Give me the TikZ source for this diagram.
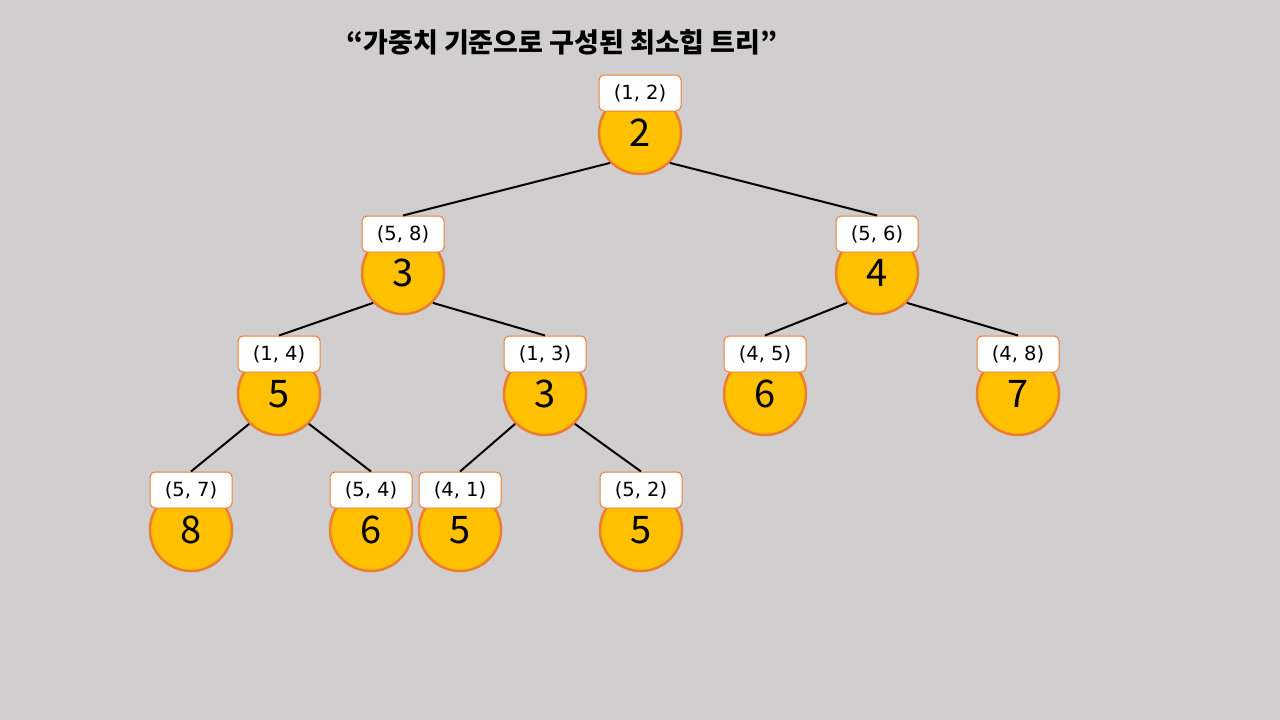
\documentclass[tikz,border=0pt]{standalone}
\usepackage{fontspec}
\setmainfont{Noto Sans CJK KR}
\newfontfamily\pairfont{DejaVu Sans}
\usepackage{tikz}
\definecolor{bggray}{HTML}{D0CECE}
\definecolor{heapfill}{HTML}{FFC000}
\definecolor{heapline}{HTML}{ED7D31}
\begin{document}
\begin{tikzpicture}[x=1pt,y=-1pt,
  key/.style={circle, draw=heapline, line width=2.5pt, fill=heapfill, minimum size=82pt, inner sep=0pt, font=\fontsize{38}{40}\selectfont},
  pair/.style={draw=heapline, line width=1pt, fill=white, rounded corners=5pt, minimum width=82pt, minimum height=36pt, inner sep=0pt, font=\pairfont\fontsize{19.5}{23}\selectfont},
  link/.style={line width=2pt}]
\path [fill=bggray] (0,0) rectangle (1280,720);
\useasboundingbox (0,0) rectangle (1280,720);
\node (title) at (562,42) {\fontsize{27}{31}\selectfont\bfseries “가중치 기준으로 구성된 최소힙 트리”};
% level 1
\node [key] (n1) at (640,133) {2};
\node [pair] (l1) at (640,93) {(1, 2)};
% level 2
\node [key] (n2) at (403,273) {3};
\node [pair] (l2) at (403,234) {(5, 8)};
\node [key] (n3) at (877,273) {4};
\node [pair] (l3) at (877,234) {(5, 6)};
% level 3
\node [key] (n4) at (279,394) {5};
\node [pair] (l4) at (279,354) {(1, 4)};
\node [key] (n5) at (545,394) {3};
\node [pair] (l5) at (545,354) {(1, 3)};
\node [key] (n6) at (765,394) {6};
\node [pair] (l6) at (765,354) {(4, 5)};
\node [key] (n7) at (1018,394) {7};
\node [pair] (l7) at (1018,354) {(4, 8)};
% level 4
\node [key] (n8) at (191,530) {8};
\node [pair] (l8) at (191,490) {(5, 7)};
\node [key] (n9) at (371,530) {6};
\node [pair] (l9) at (371,490) {(5, 4)};
\node [key] (n10) at (460,530) {5};
\node [pair] (l10) at (460,490) {(4, 1)};
\node [key] (n11) at (641,530) {5};
\node [pair] (l11) at (641,490) {(5, 2)};
% links
\path [draw, link] (n1.south west) -- (l2.north);
\path [draw, link] (n1.south east) -- (l3.north);
\path [draw, link] (n2.south west) -- (l4.north);
\path [draw, link] (n2.south east) -- (l5.north);
\path [draw, link] (n3.south west) -- (l6.north);
\path [draw, link] (n3.south east) -- (l7.north);
\path [draw, link] (n4.south west) -- (l8.north);
\path [draw, link] (n4.south east) -- (l9.north);
\path [draw, link] (n5.south west) -- (l10.north);
\path [draw, link] (n5.south east) -- (l11.north);
\end{tikzpicture}
\end{document}
